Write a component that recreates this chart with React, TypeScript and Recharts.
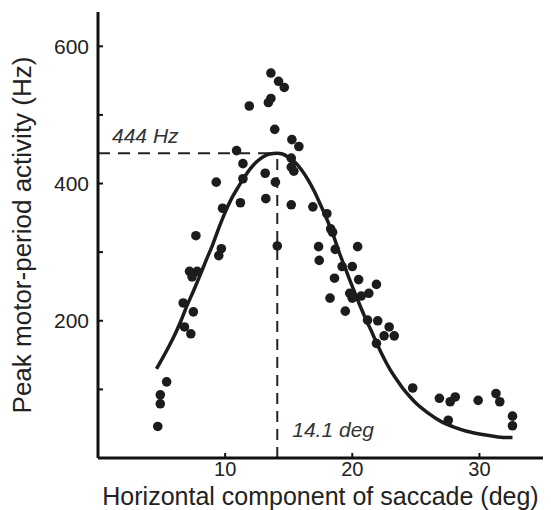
import React from 'react';
import { ComposedChart, Line, Scatter, XAxis, YAxis, ReferenceLine } from 'recharts';

const FONT = '"Liberation Sans", Arial, Helvetica, sans-serif';
const INK = '#1c1c1c';

// horizontal saccade component (deg) for each recorded cell
const cellX = [
  4.7, 4.9, 4.9, 5.4, 6.7, 6.8, 7.3, 7.5, 7.2, 7.8, 7.4, 7.7, 9.5, 9.7, 9.3, 9.8,
  11.2, 11.4, 11.4, 10.9, 11.9, 13.15, 13.2, 13.4, 13.6, 13.6, 14.2, 14.65, 13.9,
  13.95, 14.1, 15.25, 15.8, 15.2, 15.2, 15.4, 15.2, 16.9, 18.0, 18.3, 18.45, 17.35,
  18.66, 20.42, 17.4, 19.2, 20.0, 18.6, 20.5, 21.9, 21.3, 20.7, 19.8, 20.0, 18.25,
  19.45, 21.2, 22.0, 22.9, 22.5, 23.3, 21.9, 24.75, 26.85, 27.7, 28.1, 27.55, 29.9,
  31.3, 31.6, 32.6, 32.6,
];
// peak motor-period activity (Hz) for the same cells
const cellY = [
  46, 79, 92, 111, 226, 191, 181, 213, 272, 272, 264, 324, 295, 305, 402, 364,
  372, 407, 429, 448, 513, 415, 378, 518, 524, 561, 549, 540, 479,
  402, 309, 464, 454, 437, 424, 418, 369, 366, 356, 334, 329, 308,
  304, 308, 288, 279, 279, 262, 260, 253, 240, 236, 240, 233, 233,
  214, 201, 200, 191, 178, 178, 167, 102, 87, 82, 89, 55, 84,
  94, 82, 61, 47,
];

// fitted tuning curve
const fitX = [
  4.6, 5, 5.5, 6, 6.5, 7, 7.5, 8, 8.5, 9, 9.5, 10, 10.5, 11, 11.5, 12, 12.5, 13,
  13.5, 14.1, 14.5, 15, 15.5, 16, 16.5, 17, 17.5, 18, 18.5, 19, 19.5, 20, 20.5, 21,
  21.5, 22, 22.5, 23, 23.5, 24, 24.5, 25, 26, 27, 28, 29, 30, 31, 32, 32.6,
];
const fitY = [
  130, 143, 160, 178, 199, 222, 243, 265, 288, 310, 335, 358, 378, 394, 409, 422, 432, 439,
  443, 444, 443, 438, 431, 420, 406, 389, 369, 348, 325, 298, 274, 250, 227, 205,
  185, 164, 145, 128, 114, 101, 90, 80, 65, 53, 45, 39, 35, 32, 30, 30,
];

const PEAK_X = 14.1;
const PEAK_Y = 444;

const xTicks = [10, 20, 30];
const yTicks = [100, 200, 300, 400, 500, 600];
const yLabelled = [200, 400, 600];

const cells = cellX.map((x, i) => ({ x, y: cellY[i] }));
const fit = fitX.map((x, i) => ({ x, y: fitY[i] }));

const Dot = (props: any) => {
  const { cx, cy } = props;
  if (cx == null || cy == null) return <g />;
  return <circle cx={cx} cy={cy} r={4.8} fill={INK} />;
};

export default function App() {
  return (
    <div style={{ width: 543, height: 502 }}>
      <ComposedChart width={543} height={502} margin={{ top: 4, right: 8, bottom: 0, left: 0 }}>
        <XAxis
          type="number"
          dataKey="x"
          domain={[0, 35]}
          ticks={xTicks}
          height={52}
          tickSize={-5}
          tickMargin={9}
          axisLine={{ stroke: '#111', strokeWidth: 3 }}
          tickLine={{ stroke: '#111', strokeWidth: 2 }}
          tick={{ fill: '#222', fontSize: 20, fontFamily: FONT }}
          label={{
            value: 'Horizontal component of saccade (deg)',
            position: 'insideBottom',
            offset: 5,
            fill: '#222',
            fontSize: 25,
            fontFamily: FONT,
          }}
        />
        <YAxis
          type="number"
          dataKey="y"
          domain={[0, 650]}
          ticks={yTicks}
          width={90}
          tickSize={-5}
          tickMargin={14}
          tickFormatter={(v: number) => (yLabelled.includes(v) ? String(v) : '')}
          axisLine={{ stroke: '#111', strokeWidth: 3 }}
          tickLine={{ stroke: '#111', strokeWidth: 2 }}
          tick={{ fill: '#222', fontSize: 21, fontFamily: FONT }}
          label={{
            content: (p: any) => {
              const vb = p.viewBox || { x: 0, y: 4, width: 90, height: 446 };
              const cx = vb.x + 23;
              const cy = vb.y + vb.height / 2;
              return (
                <text
                  x={cx}
                  y={cy}
                  transform={`rotate(-90 ${cx} ${cy})`}
                  textAnchor="middle"
                  fill="#222"
                  fontSize={26}
                  fontFamily={FONT}
                >
                  Peak motor-period activity (Hz)
                </text>
              );
            },
          }}
        />
        <ReferenceLine
          segment={[{ x: 0, y: PEAK_Y }, { x: PEAK_X, y: PEAK_Y }]}
          stroke="#222"
          strokeWidth={2}
          strokeDasharray="12 8"
          label={{
            content: (p: any) => {
              const vb = p.viewBox || {};
              return (
                <text x={vb.x + 14} y={vb.y - 10} fill="#333" fontSize={21} fontStyle="italic" fontFamily={FONT}>
                  {PEAK_Y} Hz
                </text>
              );
            },
          }}
        />
        <ReferenceLine
          segment={[{ x: PEAK_X, y: 0 }, { x: PEAK_X, y: PEAK_Y }]}
          stroke="#222"
          strokeWidth={2}
          strokeDasharray="11 7"
          label={{
            content: (p: any) => {
              const vb = p.viewBox || {};
              return (
                <text x={vb.x + 15} y={vb.y + vb.height - 21} fill="#333" fontSize={21} fontStyle="italic" fontFamily={FONT}>
                  {PEAK_X} deg
                </text>
              );
            },
          }}
        />
        <Line
          data={fit}
          dataKey="y"
          type="monotone"
          stroke={INK}
          strokeWidth={3.5}
          dot={false}
          activeDot={false}
          isAnimationActive={false}
        />
        <Scatter data={cells} dataKey="y" shape={Dot} isAnimationActive={false} />
      </ComposedChart>
    </div>
  );
}
